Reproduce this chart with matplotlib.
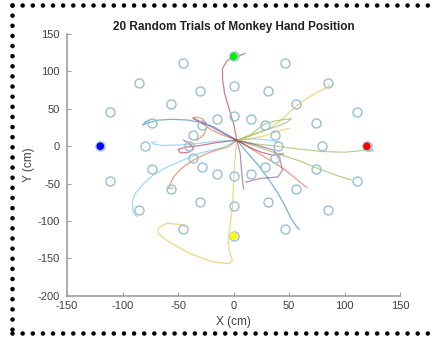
import matplotlib.pyplot as plt
import numpy as np
from matplotlib.lines import Line2D

plt.rcParams['font.family'] = ['Liberation Sans', 'DejaVu Sans']
plt.rcParams['axes.unicode_minus'] = False

# MATLAB default line colours
C_BLUE = (0.0, 0.447, 0.741)
C_ORANGE = (0.85, 0.325, 0.098)
C_YELLOW = (0.929, 0.694, 0.125)
C_PURPLE = (0.494, 0.184, 0.556)
C_GREEN = (0.466, 0.674, 0.188)
C_CYAN = (0.301, 0.745, 0.933)
C_DRED = (0.635, 0.078, 0.184)

# target layout: three rings, one target every 22.5 degrees
ring_radii = [40, 80, 120]
target_angles = [0, 22.5, 45, 67.5, 90, 112.5, 135, 157.5,
                 180, 202.5, 225, 247.5, 270, 292.5, 315, 337.5]

# reach targets marked with filled dots
goal_x = [120, 0, -120, 0]
goal_y = [0, 120, 0, -120]
goal_colors = ['red', '#00ee00', 'blue', 'yellow']

# hand trajectories (x, y) in cm
trials = [
    (C_DRED, [(3, 8), (0, 30), (-4, 50), (-8, 70), (-10, 90), (-10, 104), (-6, 114),
              (-1, 119), (5, 121), (10, 124)]),
    (C_YELLOW, [(3, 8), (1, -20), (0, -50), (-1, -80), (-3, -105), (-5, -125), (-4, -140),
                (-1, -152), (-4, -157), (-20, -154), (-40, -143), (-58, -128), (-68, -117),
                (-68, -110), (-64, -106), (-60, -103), (-52, -104), (-46, -105), (-44, -108)]),
    (C_YELLOW, [(3, 8), (18, 15), (33, 24), (45, 38), (55, 52), (67, 65), (79, 75),
                (86, 80), (85, 83)]),
    (C_GREEN, [(3, 8), (15, 15), (28, 30), (38, 34), (52, 37), (48, 32), (40, 27),
               (25, 20), (10, 12)]),
    (C_GREEN, [(3, 8), (20, 3), (40, 0), (60, -4), (80, -7), (100, -8), (114, -6),
               (124, -4), (126, -6), (121, -7)]),
    (C_GREEN, [(3, 8), (20, 0), (40, -10), (60, -20), (78, -31), (95, -40), (106, -45)]),
    (C_ORANGE, [(3, 8), (18, -5), (32, -18), (45, -30), (55, -42), (63, -52), (66, -55)]),
    (C_BLUE, [(3, 8), (12, -8), (22, -25), (32, -45), (40, -63), (47, -82), (52, -97),
              (57, -108), (59, -111)]),
    (C_PURPLE, [(3, 8), (6, -10), (7, -30), (8, -45), (9, -57)]),
    (C_PURPLE, [(3, 8), (20, 2), (36, -5), (42, -19), (44, -32), (40, -41), (24, -43),
                (11, -48)]),
    (C_BLUE, [(3, 8), (-5, 15), (-18, 26), (-30, 32), (-41, 35), (-55, 36), (-68, 35),
              (-78, 31), (-82, 28), (-79, 33), (-76, 35)]),
    (C_CYAN, [(3, 8), (-15, 7), (-30, 4), (-45, 2), (-63, 1), (-72, 3), (-74, 5), (-70, 6)]),
    (C_CYAN, [(3, 8), (-10, -2), (-30, -9), (-45, -18), (-60, -28), (-72, -38), (-81, -50),
              (-88, -62), (-91, -72), (-91, -82), (-90, -89), (-87, -94)]),
    (C_ORANGE, [(3, 8), (-5, -1), (-15, -5), (-23, -9), (-33, -16), (-41, -23), (-48, -31),
                (-54, -41), (-57, -50), (-59, -56), (-55, -56)]),
    (C_ORANGE, [(3, 8), (-10, 15), (-20, 22), (-30, 32), (-37, 38), (-33, 39), (-27, 36),
                (-24, 25), (-27, 15), (-33, 8)]),
    (C_DRED, [(3, 8), (-15, 5), (-30, 1), (-42, -1), (-50, -4), (-48, -9), (-40, -8),
              (-36, -3), (-40, 4), (-45, 8)]),
    (C_PURPLE, [(3, 8), (-8, 16), (-20, 26), (-30, 33), (-36, 37)]),
    (C_CYAN, [(3, 8), (15, 10), (28, 9), (40, 6)]),
    (C_DRED, [(3, 8), (15, -2), (25, -8), (35, -12), (45, -10)]),
    (C_YELLOW, [(3, 8), (15, 10), (28, 14), (40, 20), (50, 24)]),
]


def main():
    fig = plt.figure(figsize=(4.35, 3.37), dpi=100)
    ax = fig.add_axes([0.154, 0.122, 0.766, 0.777])

    for color, pts in trials:
        xy = np.array(pts, dtype=float)
        ax.plot(xy[:, 0], xy[:, 1], color=color, alpha=0.55, linewidth=0.9)

    ang = np.deg2rad(target_angles)
    for r in ring_radii:
        ax.plot(r * np.cos(ang), r * np.sin(ang), 'o', linestyle='none',
                markersize=6.5, markerfacecolor='none', markeredgecolor='#98c0d4',
                markeredgewidth=1.0)

    ax.scatter(goal_x, goal_y, c=goal_colors, s=30, zorder=5, edgecolors='none')

    ax.set_xlim(-150, 150)
    ax.set_ylim(-200, 150)
    ax.set_xticks(np.arange(-150, 151, 50))
    ax.set_yticks(np.arange(-200, 151, 50))
    ax.spines['top'].set_visible(False)
    ax.spines['right'].set_visible(False)
    for s in ('left', 'bottom'):
        ax.spines[s].set_color('#a0a0a0')
        ax.spines[s].set_linewidth(1.2)
    ax.tick_params(direction='in', length=3, color='#a0a0a0', labelcolor='#404040',
                   labelsize=8)
    ax.tick_params(axis='y', pad=5)
    ax.tick_params(axis='x', pad=4)
    ax.set_xlabel('X (cm)', fontsize=8.5, color='#404040', labelpad=3)
    ax.set_ylabel('Y (cm)', fontsize=8.5, color='#404040', labelpad=2)
    ax.set_title('20 Random Trials of Monkey Hand Position', fontsize=8.5,
                 fontweight='bold', color='#202020', pad=3)

    # dotted frame around the figure
    dots = dict(color='black', linewidth=3.3, linestyle=(0, (0.01, 2.2)),
                dash_capstyle='round', transform=fig.transFigure, clip_on=False)
    fig.add_artist(Line2D([12 / 435, 1.02], [1 - 5 / 337, 1 - 5 / 337], **dots))
    fig.add_artist(Line2D([12 / 435, 12 / 435], [1 - 5 / 337, 4 / 337], **dots))
    fig.add_artist(Line2D([12 / 435, 1.02], [4 / 337, 4 / 337], **dots))

    fig.savefig('out.png', dpi=100)


if __name__ == "__main__":
    main()
